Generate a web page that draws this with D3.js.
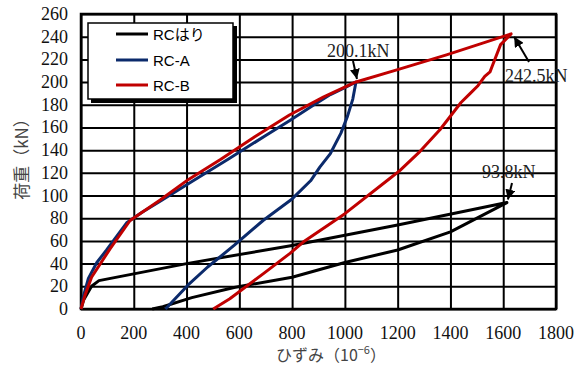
<!DOCTYPE html>
<html>
<head>
<meta charset="utf-8">
<script src="https://cdn.jsdelivr.net/npm/d3@7"></script>
<style>
  body { margin: 0; background: #fff; }
  #chart svg { display: block; }
  .lbl { font-family: "Liberation Serif", "Times New Roman", serif; font-size: 18px; fill: #111; }
</style>
</head>
<body>
<div id="chart"></div>
<script>
// 荷重-ひずみ データ (strain x1e-6, load kN)
const seriesNames = ["RCはり", "RC-A", "RC-B"];
const seriesColors = ["#000000", "#0b2a6b", "#c00000"];

const rcBeam = [
  [0, 0], [10, 8], [40, 20], [68, 25], [400, 40], [800, 56], [1200, 74], [1614, 93.8],
  [1400, 68], [1200, 52], [1000, 41], [800, 28], [580, 19], [420, 10], [310, 2], [270, 0]
];
const rcA = [
  [0, 0], [10, 12], [28, 27], [60, 41], [97, 52], [135, 64], [173, 76], [230, 85],
  [300, 95], [425, 113], [565, 133], [700, 153], [790, 166], [870, 178], [945, 189],
  [1000, 195], [1042, 200.1],
  [1030, 185], [1010, 170], [985, 155], [945, 137], [905, 125], [870, 113], [800, 97],
  [690, 78], [580, 56], [480, 37], [405, 21], [320, 0]
];
const rcB = [
  [0, 0], [15, 12], [40, 28], [110, 53], [186, 78], [300, 96], [406, 114], [530, 132],
  [660, 152], [790, 171], [920, 187], [1042, 200.1], [1200, 211], [1385, 224], [1630, 242.5],
  [1590, 233], [1560, 215], [1550, 209], [1530, 205], [1505, 197], [1475, 190], [1440, 182],
  [1360, 158], [1285, 139], [1208, 122], [1170, 115], [1000, 84], [842, 59], [792, 49],
  [690, 31], [564, 9], [501, 0]
];
const seriesData = [rcBeam, rcA, rcB];

const xTicks = [0, 200, 400, 600, 800, 1000, 1200, 1400, 1600, 1800];
const yTicks = [0, 20, 40, 60, 80, 100, 120, 140, 160, 180, 200, 220, 240, 260];

// peak annotations: [strain, load, label]
const peakNotes = [
  [1042, 200.1, "200.1kN"],
  [1630, 242.5, "242.5kN"],
  [1614, 93.8, "93.8kN"]
];

const W = 578, H = 367;
const plot = { left: 81, right: 556, top: 14, bottom: 309 };

const svg = d3.select("#chart").append("svg")
  .attr("width", W).attr("height", H);

const x = d3.scaleLinear().domain([0, 1800]).range([plot.left, plot.right]);
const y = d3.scaleLinear().domain([0, 260]).range([plot.bottom, plot.top]);

// grid lines from axes
const gx = svg.append("g")
  .attr("transform", `translate(0,${plot.bottom})`)
  .call(d3.axisBottom(x).tickValues(xTicks).tickFormat("")
    .tickSize(-(plot.bottom - plot.top)));
const gy = svg.append("g")
  .attr("transform", `translate(${plot.left},0)`)
  .call(d3.axisLeft(y).tickValues(yTicks).tickFormat("")
    .tickSize(-(plot.right - plot.left)));

[gx, gy].forEach(g => {
  g.select(".domain").remove();
  g.selectAll(".tick line").attr("stroke", "#000").attr("stroke-width", 2);
});

// tick labels
svg.selectAll(".xl").data(xTicks).enter().append("text")
  .attr("class", "lbl")
  .attr("x", d => x(d)).attr("y", plot.bottom + 30)
  .attr("text-anchor", "middle")
  .text(d => d);
svg.selectAll(".yl").data(yTicks).enter().append("text")
  .attr("class", "lbl")
  .attr("x", plot.left - 13).attr("y", d => y(d) + 6)
  .attr("text-anchor", "end")
  .text(d => d);

// frame
svg.append("rect")
  .attr("x", plot.left).attr("y", plot.top)
  .attr("width", plot.right - plot.left).attr("height", plot.bottom - plot.top)
  .attr("fill", "none").attr("stroke", "#000").attr("stroke-width", 2.5);

// curves
const line = d3.line().x(d => x(d[0])).y(d => y(d[1]));
svg.selectAll(".curve")
  .data(seriesData)
  .enter().append("path")
  .attr("class", "curve")
  .attr("d", line)
  .attr("fill", "none")
  .attr("stroke", (d, i) => seriesColors[i])
  .attr("stroke-width", 3)
  .attr("stroke-linejoin", "round");

// arrows
svg.append("defs").append("marker")
  .attr("id", "arr")
  .attr("viewBox", "0 0 10 10")
  .attr("refX", 10).attr("refY", 5)
  .attr("markerWidth", 5).attr("markerHeight", 5)
  .attr("orient", "auto")
  .append("path").attr("d", "M0,0L10,5L0,10z").attr("fill", "#000");

const noteLayout = [
  { tx: 327, ty: 57, fx: 353, fy: 61, dx: 1, dy: -3 },
  { tx: 505, ty: 82, fx: 529, fy: 62, dx: 3, dy: 3 },
  { tx: 482, ty: 178, fx: 512, fy: 183, dx: 1, dy: -3 }
];
peakNotes.forEach((p, i) => {
  const L = noteLayout[i];
  svg.append("line")
    .attr("x1", L.fx).attr("y1", L.fy)
    .attr("x2", x(p[0]) + L.dx).attr("y2", y(p[1]) + L.dy)
    .attr("stroke", "#000").attr("stroke-width", 2)
    .attr("marker-end", "url(#arr)");
  svg.append("text")
    .attr("class", "lbl")
    .attr("x", L.tx).attr("y", L.ty)
    .style("fill", "#222")
    .text(p[2]);
});

// legend
const lg = svg.append("g");
lg.append("rect").attr("x", 91).attr("y", 26).attr("width", 146).attr("height", 77).attr("fill", "#000");
lg.append("rect").attr("x", 88).attr("y", 23).attr("width", 145).attr("height", 76)
  .attr("fill", "#fff").attr("stroke", "#000").attr("stroke-width", 1.5);
const rowsY = [34, 60, 85];
seriesNames.forEach((n, i) => {
  lg.append("line")
    .attr("x1", 116).attr("x2", 148)
    .attr("y1", rowsY[i]).attr("y2", rowsY[i])
    .attr("stroke", seriesColors[i]).attr("stroke-width", 3);
  lg.append("text")
    .attr("x", 153).attr("y", rowsY[i])
    .attr("dominant-baseline", "central")
    .text(n)
    .attr("font-family", "Liberation Sans, Noto Sans CJK JP, sans-serif")
    .attr("font-size", 15);
});

// axis titles
svg.append("text")
  .attr("x", 331).attr("y", 361)
  .attr("text-anchor", "middle")
  .attr("font-family", "Noto Sans CJK JP, serif")
  .attr("font-size", 16)
  .attr("fill", "#444")
  .html("ひずみ（10<tspan dy='-7' font-size='11'>−6</tspan><tspan dy='7'>）</tspan>");

svg.append("text")
  .attr("transform", "translate(28,155) rotate(-90)")
  .attr("text-anchor", "middle")
  .attr("font-family", "Noto Sans CJK JP, serif")
  .attr("font-size", 17)
  .attr("fill", "#444")
  .text("荷重（kN）");
</script>
</body>
</html>
